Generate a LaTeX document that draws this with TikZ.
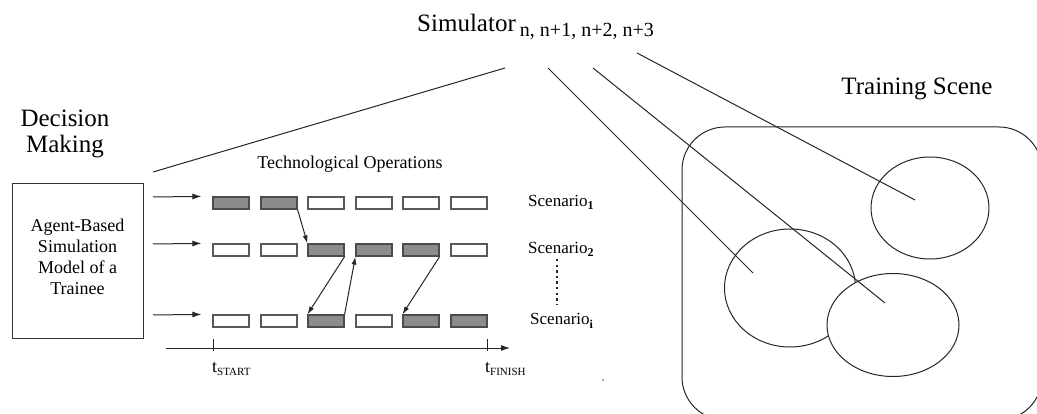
\documentclass[tikz,border=0pt]{standalone}
\usepackage{fontspec}
\setmainfont{Liberation Serif}
\usetikzlibrary{arrows.meta,shapes.geometric}

\tikzset{
  thin line/.style={line width=1pt, draw=black!85},
  opbox/.style={draw=black!65, line width=1.2pt, minimum width=36pt, minimum height=12pt,
                inner sep=0pt, fill=white},
  opbusy/.style={opbox, fill=black!45, draw=black!70},
  feed/.style={thin line, -{Latex[length=9pt,width=6pt]}},
  jump/.style={thin line, -{Latex[length=8pt,width=5pt]}},
  bigtext/.style={font=\fontsize{25}{26}\selectfont, inner sep=0pt},
  midtext/.style={font=\fontsize{18}{21}\selectfont, inner sep=0pt},
  scen/.style={font=\fontsize{17}{18}\selectfont, inner sep=0pt, anchor=base west},
  zone/.style={ellipse, thin line, inner sep=0pt},
}

\newcommand{\scsub}[1]{\raisebox{-3pt}{\fontsize{12}{12}\selectfont\bfseries #1}}
\newcommand{\tsub}[1]{\raisebox{-3pt}{\fontsize{11}{11}\selectfont #1}}

\begin{document}
\begin{tikzpicture}[x=1pt, y=-1pt]
\clip (0,0) rectangle (1037,414);
\fill[white] (0,0) rectangle (1037,414);

% titles
\node[bigtext, anchor=base west] (sim) at (417,32)
  {Simulator\,\raisebox{-5pt}{\fontsize{20}{20}\selectfont n, n+1, n+2, n+3}};
\node[bigtext, align=center, anchor=north] (dm) at (65,110) {Decision\\Making};
\node[bigtext, anchor=base] (ts) at (917,95) {Training Scene};
\node[midtext, anchor=base] (tech) at (350,169) {Technological Operations};

% agent model
\node[draw=black!80, line width=1pt, minimum width=131pt, minimum height=155pt,
      midtext, align=center] (agent) at (77.5,261.5)
  {Agent-Based\\Simulation\\Model of a\\Trainee\\[-12pt]\mbox{}};

% operation rows
\foreach \r/\y in {1/203, 2/250, 3/321}{
  \foreach \c/\x in {1/231, 2/279, 3/326, 4/374, 5/421, 6/469}{
    \node[opbox] (r\r\c) at (\x,\y) {};
  }
}
\foreach \n in {r11,r12,r23,r24,r25,r33,r35,r36}{
  \node[opbusy] at (\n) {};
}

% inputs from the agent model
\foreach \r/\y in {1/197, 2/244, 3/315}{
  \coordinate (in\r) at (153,\y);
  \draw[feed] (in\r) -- ([xshift=-11pt]r\r1.north west);
}

% switching between scenarios
\draw[jump] (r12.south east) -- (r23.north west);
\draw[jump] (r23.south east) -- (r33.north west);
\draw[jump] (r33.north east) -- (r24.south west);
\draw[jump] (r25.south east) -- (r35.north west);

% time axis
\coordinate (ax0) at (166,348);
\coordinate (ax1) at (510,348);
\draw[feed] (ax0) -- (ax1);
\draw[thin line] (213,339) -- (213,351);
\draw[thin line] (487,339) -- (487,351);
\node[midtext, anchor=base west] (tstart) at (212,372) {t\tsub{START}};
\node[midtext, anchor=base west] (tfin) at (485,372) {t\tsub{FINISH}};

% scenario labels
\node[scen] (s1) at (528,207) {Scenario\scsub{1}};
\node[scen] (s2) at (528,254) {Scenario\scsub{2}};
\node[scen] (si) at (530,325) {Scenario\scsub{i}};
\draw[line width=2.4pt, dash pattern=on 2.4pt off 3.2pt, black!85] (557,259) -- (557,304);
\fill[black!55] (603,380) circle (1);

% training scene
\draw[thin line, rounded corners=43pt] (682,127) rectangle (1042,420);
\node[zone, minimum width=118pt, minimum height=102pt] (z1) at (930,208) {};
\node[zone, minimum width=131pt, minimum height=118pt] (z2) at (790,288) {};
\node[zone, fill=white, minimum width=132pt, minimum height=103pt] (z3) at (893,325) {};

% projection lines
\coordinate (p0) at (153,172);
\coordinate (q0) at (505,68);
\coordinate (q1) at (548,68);
\coordinate (q2) at (593,68);
\coordinate (q3) at (637,53);
\coordinate (e1) at (753,273);
\coordinate (e2) at (885,303);
\coordinate (e3) at (915,200);
\draw[thin line] (p0) -- (q0);
\draw[thin line] (q1) -- (e1);
\draw[thin line] (q2) -- (e2);
\draw[thin line] (q3) -- (e3);
\end{tikzpicture}
\end{document}
